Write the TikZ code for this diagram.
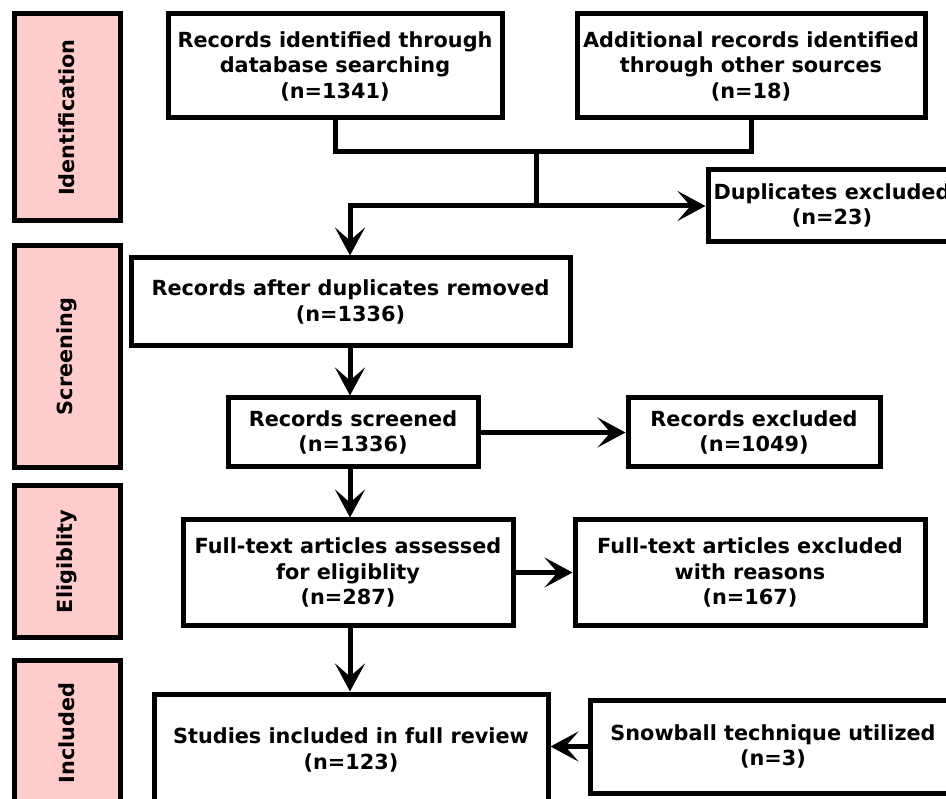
\documentclass[tikz,border=0pt]{standalone}
\usepackage{fontspec}
\setmainfont{DejaVu Sans}
\usepackage{xcolor}
\usetikzlibrary{arrows.meta,positioning,calc}
\definecolor{stagepink}{RGB}{255,204,204}
\tikzset{
  >={Stealth[length=28pt, width=30pt, inset=13pt]},
  flow/.style={line width=5pt},
  box/.style={draw, line width=5pt, fill=white, align=center, inner sep=0pt,
    font=\fontsize{20.8}{25.5}\selectfont\bfseries},
  stage/.style={draw, line width=5pt, fill=stagepink, inner sep=0pt},
  stagetext/.style={rotate=90, font=\fontsize{20.8}{24}\selectfont\bfseries},
}

\begin{document}
\begin{tikzpicture}[x=1pt, y=-1pt]
  \useasboundingbox (0,0) rectangle (946,799);
  \clip (0,0) rectangle (946,799);

  % stage bars on the left
  \node[stage, minimum width=106pt, minimum height=207pt] (sid) at (67,117.5) {};
  \node[stagetext] at (sid.center) {Identification};
  \node[stage, minimum width=106pt, minimum height=222pt] (ssc) at (67,356.5) {};
  \node[stagetext] at (ssc.center) {Screening};
  \node[stage, minimum width=106pt, minimum height=151pt] (sel) at (67,561.5) {};
  \node[stagetext] at (sel.center) {Eligiblity};
  \node[stage, minimum width=106pt, minimum height=146pt] (sin) at (67,733) {};
  \node[stagetext] at (sin.center) {Included};

  % flow boxes
  \node[box, minimum width=334pt, minimum height=104pt] (db) at (335,66)
    {Records identified through\\database searching\\(n=1341)};
  \node[box, minimum width=348pt, minimum height=104pt] (other) at (751,66)
    {Additional records identified\\through other sources\\(n=18)};
  \node[box, minimum width=248pt, minimum height=72pt] (dup) at (832,205.5)
    {Duplicates excluded\\(n=23)};
  \node[box, minimum width=439pt, minimum height=88pt] (after) at (350.5,302)
    {Records after duplicates removed\\(n=1336)};
  \node[box, minimum width=250pt, minimum height=69pt] (scr) at (353,432.5)
    {Records screened\\(n=1336)};
  \node[box, minimum width=252pt, minimum height=69pt] (excl) at (754,432.5)
    {Records excluded\\(n=1049)};
  \node[box, minimum width=330pt, minimum height=105pt] (full) at (348,572.5)
    {Full-text articles assessed\\for eligiblity\\(n=287)};
  \node[box, minimum width=350pt, minimum height=105pt] (fullex) at (750,572.5)
    {Full-text articles excluded\\with reasons\\(n=167)};
  \node[box, minimum width=394pt, minimum height=112pt] (incl) at (351,750)
    {Studies included in full review\\(n=123)};
  \node[box, minimum width=366pt, minimum height=93pt] (snow) at (773,746.5)
    {Snowball technique utilized\\(n=3)};

  % joining lines
  \coordinate (colx) at (350,0);
  \coordinate (join) at (536,152);
  \coordinate (split) at (536,206);
  \draw[flow] (db.south) |- (join) -| (other.south);
  \draw[flow] (join) -- (split);
  \draw[flow, ->] (split) -- (dup.west |- split);
  \draw[flow, ->] (split) -| (after.north -| colx);
  \draw[flow, ->] (after.south -| colx) -- (scr.north -| colx);
  \draw[flow, ->] (scr.east) -- (excl.west);
  \draw[flow, ->] (scr.south -| colx) -- (full.north -| colx);
  \draw[flow, ->] (full.east) -- (fullex.west);
  \draw[flow, ->] (full.south -| colx) -- (incl.north -| colx);
  \draw[flow, ->] (snow.west) -- (incl.east |- snow.west);
\end{tikzpicture}
\end{document}
